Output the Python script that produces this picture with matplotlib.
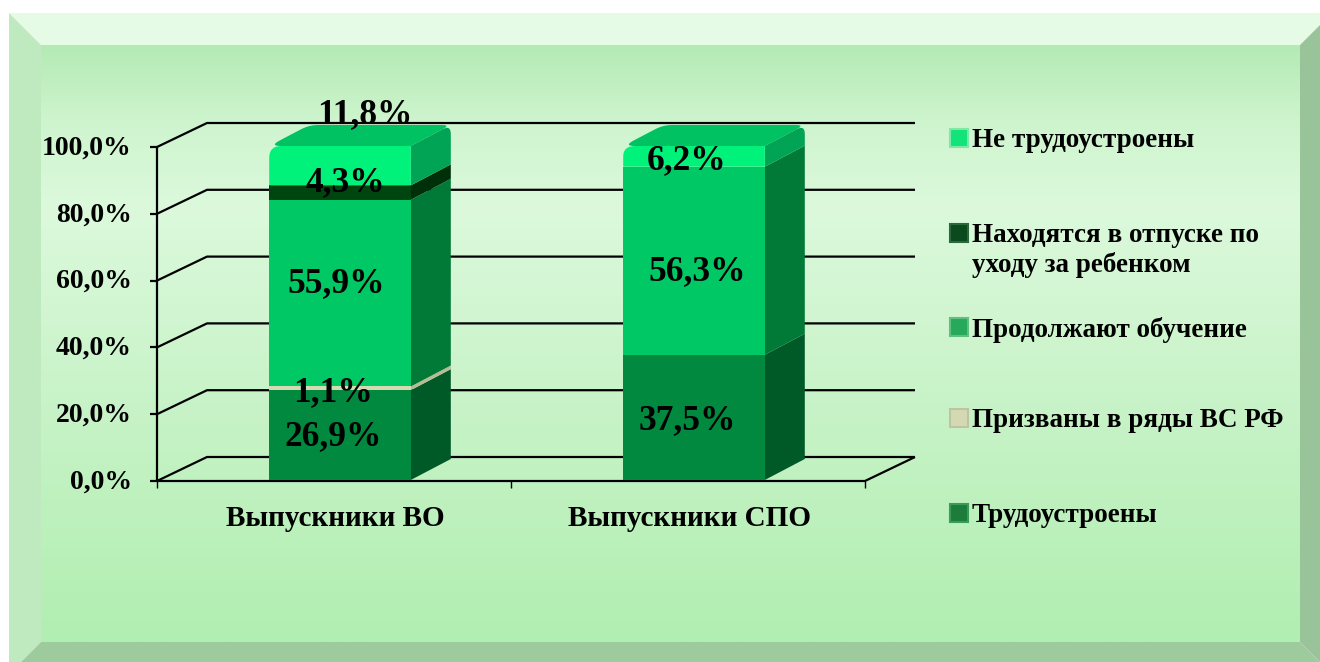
"""
plot.py — graduate employment, 3D-style stacked columns
"""

import matplotlib as mpl
import matplotlib.pyplot as plt
import numpy as np
from matplotlib.patches import Polygon, Rectangle
from matplotlib.transforms import IdentityTransform
from matplotlib.colors import LinearSegmentedColormap

mpl.rcParams.update({
    "font.family": "Liberation Serif",
    "font.weight": "bold",
    "font.size": 20,
})

# ── data ────────────────────────────────────────────────────────────────────
categories = ["Выпускники ВО", "Выпускники СПО"]
series_names = [
    "Трудоустроены",
    "Призваны в ряды ВС РФ",
    "Продолжают обучение",
    "Находятся в отпуске по\nуходу за ребенком",
    "Не трудоустроены",
]
employed = [26.9, 37.5]
conscripted = [1.1, 0.0]
studying = [55.9, 56.3]
on_leave = [4.3, 0.0]
unemployed = [11.8, 6.2]
y_ticks = [0, 20, 40, 60, 80, 100]

series_values = [employed, conscripted, studying, on_leave, unemployed]

# ── styles ──────────────────────────────────────────────────────────────────
FRONT = ["#00893f", "#d6dab0", "#00c864", "#00450f", "#00f27a"]
SIDE = ["#005a27", "#b8bc96", "#007a36", "#00300a", "#00a454"]
TOP = "#00c262"
LEG_FACE = ["#1c7c3c", "#d4d9b4", "#26a95a", "#0b4a1c", "#12e47a"]
LEG_EDGE = ["#3a9a58", "#bfc4a0", "#60c080", "#2a6a3a", "#7ee8a8"]

W, H = 1320, 662
WALL = (50, 24)          # depth of walls / floor, display px (y up)
BAR_F = (6, 1)           # bar front face offset from front plane
BAR_B = (46, 22)         # bar back face offset
BAR_W = 0.4
R_FRONT, R_BACK = 12, 9  # rounding of the column cap, px

# data label nudges in px (x right, y down) relative to segment centre
label_shift = [
    [(-1, 2), (-1, 4), (2, -10), (11, -10), (31, -51)],
    [(-1, 3), (0, 0), (9, 11), (0, 0), (-1, 4)],
]
# legend rows: first-line y of each entry (image px, top series first)
LEG_X = 950
LEG_ROWS = [138, 233, 327, 418, 513]


def pct(v):
    return f"{v:.1f}%".replace(".", ",")


def rounded(pts, corners):
    """replace vertices {index: radius} with a small quadratic curve"""
    out = []
    n = len(pts)
    for j, p in enumerate(pts):
        r = corners.get(j)
        if not r:
            out.append(p)
            continue
        p = np.array(p)
        a = np.array(pts[j - 1]) - p
        b = np.array(pts[(j + 1) % n]) - p
        pa = p + a / np.hypot(*a) * min(r, np.hypot(*a) / 2)
        pb = p + b / np.hypot(*b) * min(r, np.hypot(*b) / 2)
        for s in np.linspace(0, 1, 8):
            out.append(tuple((1 - s) ** 2 * pa + 2 * s * (1 - s) * p + s ** 2 * pb))
    return out


fig = plt.figure(figsize=(W / 100, H / 100), dpi=100, facecolor="white")

# ── background frame with bevels ────────────────────────────────────────────
bg = fig.add_axes([0, 0, 1, 1])
bg.set_xlim(0, W)
bg.set_ylim(H, 0)
bg.axis("off")

X0, Y0, X1, Y1, BV = 9, 13, 1332, 674, 32
grad = LinearSegmentedColormap.from_list(
    "bg", [(0.0, "#b4eab4"), (0.12, "#cdf4cd"), (0.27, "#dcf9dc"),
           (0.6, "#c8f3c8"), (1.0, "#b1eeb1")])
bg.imshow(np.linspace(0, 1, 256).reshape(-1, 1), cmap=grad, aspect="auto",
          extent=(X0 + BV, X1 - BV, Y1 - BV, Y0 + BV), zorder=0)
bevels = [
    ([(X0, Y0), (X1, Y0), (X1 - BV, Y0 + BV), (X0 + BV, Y0 + BV)], "#e5fbe5"),
    ([(X0, Y0), (X0 + BV, Y0 + BV), (X0 + BV, Y1 - BV), (X0, Y1)], "#bfeabf"),
    ([(X0, Y1), (X0 + BV, Y1 - BV), (X1 - BV, Y1 - BV), (X1, Y1)], "#9ecb9e"),
    ([(X1, Y0), (X1 - BV, Y0 + BV), (X1 - BV, Y1 - BV), (X1, Y1)], "#99c499"),
]
for pts, col in bevels:
    bg.add_patch(Polygon(pts, closed=True, facecolor=col, edgecolor="none",
                         zorder=1))

# legend, drawn by hand so the two-line entry sits like the original
for k, y in zip(range(len(series_names) - 1, -1, -1), LEG_ROWS):
    bg.add_patch(Rectangle((LEG_X, y - 9), 18, 18, facecolor=LEG_FACE[k],
                           edgecolor=LEG_EDGE[k], lw=1.5, zorder=3))
    bg.text(LEG_X + 22, y - 10, series_names[k], ha="left", va="top",
            fontsize=19.5, linespacing=1.22, zorder=3)

# ── plot axes: front plane of the 3D box ────────────────────────────────────
ax = fig.add_axes([157 / W, 1 - 481 / H, 708 / W, 334 / H])
ax.set_xlim(-0.5, 1.5)
ax.set_ylim(0, 100)
ax.axis("off")

ident = IdentityTransform()


def disp(x, y, off=(0, 0)):
    px, py = ax.transData.transform((x, y))
    return (px + off[0], py + off[1])


def line(pts, lw=1.6):
    xs, ys = zip(*pts)
    ax.plot(xs, ys, color="black", lw=lw, transform=ident, clip_on=False,
            solid_capstyle="butt", zorder=2)


def face(pts, col, z=3):
    ax.add_patch(Polygon(pts, closed=True, facecolor=col, edgecolor="none",
                         transform=ident, clip_on=False, zorder=z))


# back wall gridlines + side wall diagonals
for v in y_ticks:
    line([disp(-0.5, v), disp(-0.5, v, WALL), disp(1.5, v, WALL)])
    line([disp(-0.5, v, (-7, 0)), disp(-0.5, v)])
# floor front edge, right edge, value axis
line([disp(-0.5, 0), disp(1.5, 0), disp(1.5, 0, WALL)])
line([disp(-0.5, 0), disp(-0.5, 100)])
for xc in [-0.5, 0.5, 1.5]:
    line([disp(xc, 0), disp(xc, 0, (0, -7))], lw=1.0)

# tick labels
for v in y_ticks:
    ax.annotate(pct(v), (-0.5, v), xytext=(-25, -1), textcoords="offset pixels",
                ha="right", va="center", fontsize=20, annotation_clip=False)

# category labels
for i, cat in enumerate(categories):
    ax.annotate(cat, (i, 0), xytext=(1, -37), textcoords="offset pixels",
                ha="center", va="center", fontsize=21, annotation_clip=False)

# stacked 3D columns
for i in range(len(categories)):
    x0, x1 = i - BAR_W / 2, i + BAR_W / 2
    bottom = 0.0
    segs = [(k, s[i]) for k, s in enumerate(series_values)]
    last = max(k for k, v in segs if v > 0)
    for k, v in segs:
        if v <= 0:
            continue
        b, t = bottom, bottom + v
        front = [disp(x0, b, BAR_F), disp(x1, b, BAR_F),
                 disp(x1, t, BAR_F), disp(x0, t, BAR_F)]
        side = [disp(x1, b, BAR_F), disp(x1, b, BAR_B),
                disp(x1, t, BAR_B), disp(x1, t, BAR_F)]
        if k == last:
            top = [disp(x0, t, BAR_F), disp(x1, t, BAR_F),
                   disp(x1, t, BAR_B), disp(x0, t, BAR_B)]
            face(rounded(top, {0: R_FRONT, 2: R_BACK, 3: R_BACK}), TOP)
            front = rounded(front, {3: R_FRONT})
            side = rounded(side, {2: R_BACK})
        face(front, FRONT[k], z=3.2)
        face(side, SIDE[k], z=3.1)
        bottom = t

    # data labels
    bottom = 0.0
    for k, v in segs:
        if v <= 0:
            continue
        dx, dy = label_shift[i][k]
        ax.annotate(pct(v), (i, bottom + v / 2),
                    xytext=(BAR_F[0] + dx - 6, BAR_F[1] - dy),
                    textcoords="offset pixels", ha="center", va="center",
                    fontsize=25.5, zorder=6, annotation_clip=False)
        bottom += v

fig.savefig("out.png", dpi=100, facecolor="white")
